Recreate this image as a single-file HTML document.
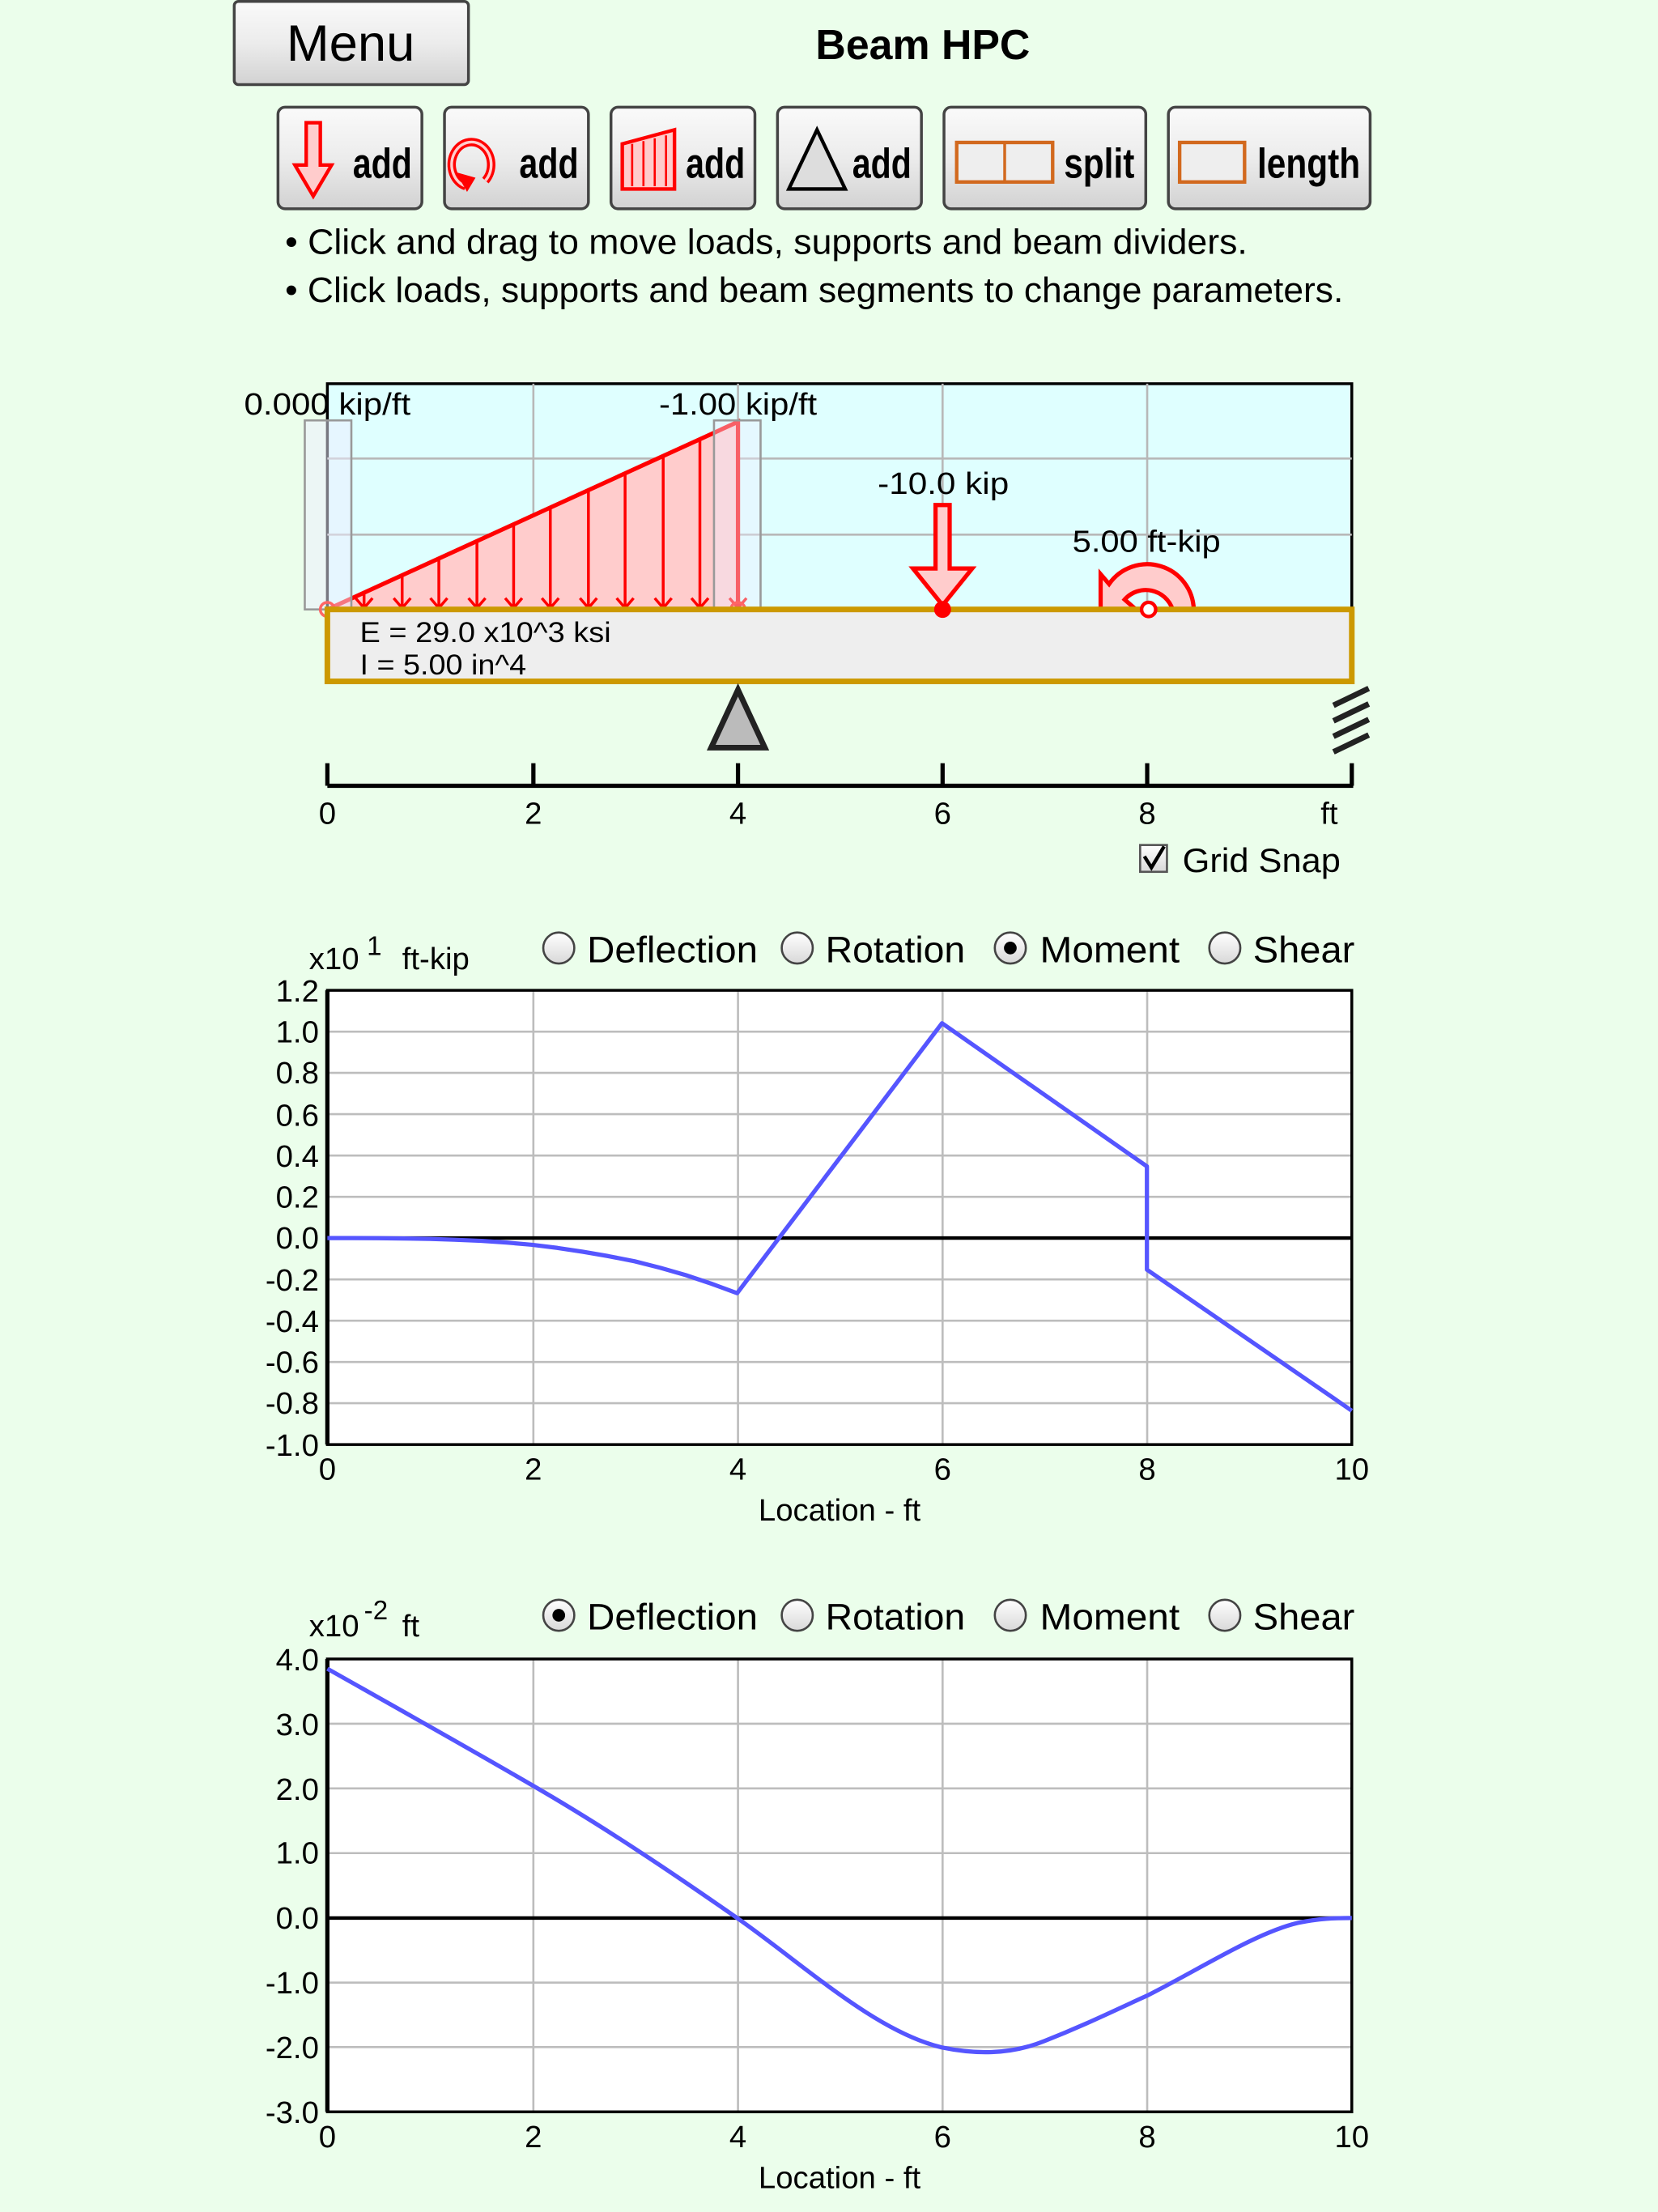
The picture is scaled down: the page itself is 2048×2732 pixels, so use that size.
<!DOCTYPE html>
<html><head><meta charset="utf-8"><style>html,body{margin:0;padding:0;background:#ebfeeb}svg{display:block}text{font-family:"Liberation Sans",sans-serif;fill:#000}</style></head>
<body>
<svg width="2048" height="2732" viewBox="0 0 1175 1568" preserveAspectRatio="none" xmlns="http://www.w3.org/2000/svg">
<defs>
<linearGradient id="bg" x1="0" y1="0" x2="0" y2="1"><stop offset="0" stop-color="#fafafa"/><stop offset="0.5" stop-color="#ececec"/><stop offset="1" stop-color="#d2d2d2"/></linearGradient>
<linearGradient id="rg" x1="0" y1="0" x2="0" y2="1"><stop offset="0" stop-color="#fff"/><stop offset="1" stop-color="#d8d8d8"/></linearGradient>
</defs>
<rect width="1175" height="1568" fill="#ebfeeb"/>
<!-- Menu -->
<rect x="166" y="1" width="166" height="59" rx="3" fill="url(#bg)" stroke="#444" stroke-width="2"/>
<text x="203" y="43" font-size="36" textLength="91" lengthAdjust="spacingAndGlyphs">Menu</text>
<text x="578" y="42" font-size="30" font-weight="bold" textLength="152" lengthAdjust="spacingAndGlyphs">Beam HPC</text>
<!-- buttons -->
<g stroke="#444" stroke-width="2" fill="url(#bg)">
<rect x="197" y="76" width="102" height="72" rx="5"/>
<rect x="315" y="76" width="102" height="72" rx="5"/>
<rect x="433" y="76" width="102" height="72" rx="5"/>
<rect x="551" y="76" width="102" height="72" rx="5"/>
<rect x="669" y="76" width="143" height="72" rx="5"/>
<rect x="828" y="76" width="143" height="72" rx="5"/>
</g>
<g font-size="30" font-weight="bold" lengthAdjust="spacingAndGlyphs">
<text x="250" y="126" textLength="42" lengthAdjust="spacingAndGlyphs">add</text><text x="368" y="126" textLength="42" lengthAdjust="spacingAndGlyphs">add</text><text x="486" y="126" textLength="42" lengthAdjust="spacingAndGlyphs">add</text><text x="604" y="126" textLength="42" lengthAdjust="spacingAndGlyphs">add</text>
<text x="754" y="126" textLength="50" lengthAdjust="spacingAndGlyphs">split</text><text x="891" y="126" textLength="73" lengthAdjust="spacingAndGlyphs">length</text>
</g>
<path d="M217,87 h10 v30 h8 l-13,22 l-13,-22 h8z" fill="#ffcccc" stroke="#f00" stroke-width="2.5"/>
<path d="M330,132 a14,16 0 1 1 14,-4" fill="none" stroke="#f00" stroke-width="6"/>
<path d="M330,132 a14,16 0 1 1 14,-4" fill="none" stroke="#ffcccc" stroke-width="2"/>
<path d="M323,122 l8,14 l6,-10z" fill="#f00"/>
<path d="M441,102 l37,-10 v42 h-37z" fill="#ffcccc" stroke="#f00" stroke-width="2.5"/>
<path d="M448,102 v30 M456,100 v32 M464,98 v34 M472,96 v36" stroke="#f00" stroke-width="1.5"/>
<path d="M579,92 l-20,42 h40z" fill="#ddd" stroke="#000" stroke-width="2.5"/>
<rect x="678" y="101" width="68" height="28" fill="#eee" stroke="#d2691e" stroke-width="2.5"/><line x1="712" y1="101" x2="712" y2="129" stroke="#d2691e" stroke-width="2"/>
<rect x="836" y="101" width="46" height="28" fill="#eee" stroke="#d2691e" stroke-width="2.5"/>
<text x="202" y="180" font-size="25" textLength="682" lengthAdjust="spacingAndGlyphs">• Click and drag to move loads, supports and beam dividers.</text>
<text x="202" y="214" font-size="25" textLength="750" lengthAdjust="spacingAndGlyphs">• Click loads, supports and beam segments to change parameters.</text>
<!-- beam diagram -->
<rect x="232" y="272" width="726" height="160" fill="#dfffff" stroke="#000" stroke-width="2"/>
<g stroke="#b8b8b8" stroke-width="1.5"><line x1="378" y1="272" x2="378" y2="432"/><line x1="523" y1="272" x2="523" y2="432"/><line x1="668" y1="272" x2="668" y2="432"/><line x1="813" y1="272" x2="813" y2="432"/><line x1="232" y1="325" x2="958" y2="325"/><line x1="232" y1="379" x2="958" y2="379"/></g>
<path d="M232,432 L523,299 L523,432z" fill="#ffcccc" stroke="#f00" stroke-width="3"/>
<g stroke="#f00" stroke-width="2" fill="none">
<path d="M258,420v10 M285,408v22 M311,396v34 M338,384v46 M364,372v58 M390,360v70 M417,348v82 M443,336v94 M470,324v106 M496,312v118"/>
<path d="M252,424l6,7l6,-7 M279,424l6,7l6,-7 M305,424l6,7l6,-7 M332,424l6,7l6,-7 M358,424l6,7l6,-7 M384,424l6,7l6,-7 M411,424l6,7l6,-7 M437,424l6,7l6,-7 M464,424l6,7l6,-7 M490,424l6,7l6,-7 M517,424l6,7l6,-7"/>
</g>
<rect x="216" y="298" width="33" height="134" fill="#eef" fill-opacity="0.5" stroke="#999" stroke-width="1.5"/>
<rect x="506" y="298" width="33" height="134" fill="#eef" fill-opacity="0.4" stroke="#999" stroke-width="1.5"/>
<circle cx="232" cy="432" r="5" fill="none" stroke="#f66" stroke-width="2"/><circle cx="523" cy="432" r="5" fill="none" stroke="#f66" stroke-width="2"/>
<text x="173" y="294" font-size="22" textLength="118" lengthAdjust="spacingAndGlyphs">0.000 kip/ft</text>
<text x="467" y="294" font-size="22" textLength="112" lengthAdjust="spacingAndGlyphs">-1.00 kip/ft</text>
<text x="622" y="350" font-size="22" textLength="93" lengthAdjust="spacingAndGlyphs">-10.0 kip</text>
<text x="760" y="391" font-size="22" textLength="105" lengthAdjust="spacingAndGlyphs">5.00 ft-kip</text>
<path d="M663,358 h10 v45 h16 l-21,26 l-21,-26 h16z" fill="#ffcccc" stroke="#f00" stroke-width="3"/>
<path d="M846,432 a33,33 0 0 0 -60,-18 l-6,-7 v25 h25 l-8,-7 a20,20 0 0 1 34,7z" fill="#ffcccc" stroke="#f00" stroke-width="3"/>
<rect x="232" y="432" width="726" height="51" fill="#eeeeee" stroke="#cc9900" stroke-width="4"/>
<circle cx="668" cy="432" r="6" fill="#f00"/>
<circle cx="814" cy="432" r="5" fill="#fff" stroke="#f00" stroke-width="2.5"/>
<text x="255" y="455" font-size="20" textLength="178" lengthAdjust="spacingAndGlyphs">E = 29.0 x10^3 ksi</text>
<text x="255" y="478" font-size="20" textLength="118" lengthAdjust="spacingAndGlyphs">I = 5.00 in^4</text>
<path d="M523,489 l-19,41 h38z" fill="#bbb" stroke="#222" stroke-width="4"/>
<g stroke="#222" stroke-width="4"><line x1="945" y1="500" x2="970" y2="488"/><line x1="945" y1="511" x2="970" y2="499"/><line x1="945" y1="522" x2="970" y2="510"/><line x1="945" y1="533" x2="970" y2="521"/></g>
<g stroke="#000" stroke-width="3"><line x1="232" y1="557" x2="959" y2="557"/><line x1="232" y1="541" x2="232" y2="557"/><line x1="378" y1="541" x2="378" y2="557"/><line x1="523" y1="541" x2="523" y2="557"/><line x1="668" y1="541" x2="668" y2="557"/><line x1="813" y1="541" x2="813" y2="557"/><line x1="958" y1="541" x2="958" y2="557"/></g>
<g font-size="22" text-anchor="middle"><text x="232" y="584">0</text><text x="378" y="584">2</text><text x="523" y="584">4</text><text x="668" y="584">6</text><text x="813" y="584">8</text><text x="942" y="584">ft</text></g>
<rect x="808" y="599" width="19" height="19" fill="url(#rg)" stroke="#555" stroke-width="1.5"/>
<path d="M811,607 l5,8 l9,-15" fill="none" stroke="#000" stroke-width="2.5"/>
<text x="838" y="618" font-size="24" textLength="112" lengthAdjust="spacingAndGlyphs">Grid Snap</text>
<!-- radio rows -->
<g font-size="26">
<text x="416" y="682" textLength="121" lengthAdjust="spacingAndGlyphs">Deflection</text><text x="585" y="682" textLength="99" lengthAdjust="spacingAndGlyphs">Rotation</text><text x="737" y="682" textLength="99" lengthAdjust="spacingAndGlyphs">Moment</text><text x="888" y="682" textLength="72" lengthAdjust="spacingAndGlyphs">Shear</text>
<text x="416" y="1155" textLength="121" lengthAdjust="spacingAndGlyphs">Deflection</text><text x="585" y="1155" textLength="99" lengthAdjust="spacingAndGlyphs">Rotation</text><text x="737" y="1155" textLength="99" lengthAdjust="spacingAndGlyphs">Moment</text><text x="888" y="1155" textLength="72" lengthAdjust="spacingAndGlyphs">Shear</text>
</g>
<g fill="url(#rg)" stroke="#444" stroke-width="1.5">
<circle cx="396" cy="672" r="11"/><circle cx="565" cy="672" r="11"/><circle cx="716" cy="672" r="11"/><circle cx="868" cy="672" r="11"/>
<circle cx="396" cy="1145" r="11"/><circle cx="565" cy="1145" r="11"/><circle cx="716" cy="1145" r="11"/><circle cx="868" cy="1145" r="11"/>
</g>
<circle cx="716" cy="672" r="4.5" fill="#000"/><circle cx="396" cy="1145" r="4.5" fill="#000"/>
<text x="219" y="687" font-size="22">x10</text><text x="260" y="677" font-size="19">1</text><text x="285" y="687" font-size="22">ft-kip</text>
<text x="219" y="1160" font-size="22">x10</text><text x="258" y="1148" font-size="19">-2</text><text x="285" y="1160" font-size="22">ft</text>
<!-- moment chart -->
<rect x="232" y="702" width="726" height="322" fill="#fff"/>
<g stroke="#bdbdbd" stroke-width="1.5">
<line x1="378" y1="702" x2="378" y2="1024"/><line x1="523" y1="702" x2="523" y2="1024"/><line x1="668" y1="702" x2="668" y2="1024"/><line x1="813" y1="702" x2="813" y2="1024"/>
<line x1="232" y1="731.3" x2="958" y2="731.3"/><line x1="232" y1="760.5" x2="958" y2="760.5"/><line x1="232" y1="789.8" x2="958" y2="789.8"/><line x1="232" y1="819.1" x2="958" y2="819.1"/><line x1="232" y1="848.4" x2="958" y2="848.4"/><line x1="232" y1="906.9" x2="958" y2="906.9"/><line x1="232" y1="936.2" x2="958" y2="936.2"/><line x1="232" y1="965.5" x2="958" y2="965.5"/><line x1="232" y1="994.7" x2="958" y2="994.7"/>
</g>
<line x1="232" y1="877.6" x2="958" y2="877.6" stroke="#000" stroke-width="2.5"/>
<rect x="232" y="702" width="726" height="322" fill="none" stroke="#000" stroke-width="2"/>
<line x1="232" y1="702" x2="232" y2="1024" stroke="#000" stroke-width="3"/>
<polyline points="232,877.6 250,877.6 268,877.7 286,877.9 304.6,878.2 322,878.8 341,879.6 359,880.8 377.2,882.4 395,884.6 413,887.3 431,890.4 449.8,894.1 468,898.7 486,903.9 504,909.9 522.4,916.7 667.6,725.3 812.8,826.8 812.8,900 958,1000" fill="none" stroke="#5555ff" stroke-width="3" stroke-linejoin="round"/>
<g font-size="22" text-anchor="end">
<text x="226" y="710">1.2</text><text x="226" y="739">1.0</text><text x="226" y="768">0.8</text><text x="226" y="798">0.6</text><text x="226" y="827">0.4</text><text x="226" y="856">0.2</text><text x="226" y="885">0.0</text><text x="226" y="915">-0.2</text><text x="226" y="944">-0.4</text><text x="226" y="973">-0.6</text><text x="226" y="1002">-0.8</text><text x="226" y="1032">-1.0</text>
</g>
<g font-size="22" text-anchor="middle"><text x="232" y="1049">0</text><text x="378" y="1049">2</text><text x="523" y="1049">4</text><text x="668" y="1049">6</text><text x="813" y="1049">8</text><text x="958" y="1049">10</text>
<text x="595" y="1078">Location - ft</text></g>
<!-- deflection chart -->
<rect x="232" y="1176" width="726" height="321" fill="#fff"/>
<g stroke="#bdbdbd" stroke-width="1.5">
<line x1="378" y1="1176" x2="378" y2="1497"/><line x1="523" y1="1176" x2="523" y2="1497"/><line x1="668" y1="1176" x2="668" y2="1497"/><line x1="813" y1="1176" x2="813" y2="1497"/>
<line x1="232" y1="1221.9" x2="958" y2="1221.9"/><line x1="232" y1="1267.7" x2="958" y2="1267.7"/><line x1="232" y1="1313.6" x2="958" y2="1313.6"/><line x1="232" y1="1405.4" x2="958" y2="1405.4"/><line x1="232" y1="1451.1" x2="958" y2="1451.1"/>
</g>
<line x1="232" y1="1359.6" x2="958" y2="1359.6" stroke="#000" stroke-width="2.5"/>
<rect x="232" y="1176" width="726" height="321" fill="none" stroke="#000" stroke-width="2"/>
<line x1="232" y1="1176" x2="232" y2="1497" stroke="#000" stroke-width="3"/>
<path d="M232,1182.9 C280,1210 330,1238 377.2,1265.5 C430,1296 480,1330 522.4,1359.6 C570,1393 620,1440 667.6,1451.4 C690,1456 715,1457 740.2,1446.8 C770,1435 790,1425 812.8,1414.7 C850,1396 890,1370 920,1363 C935,1360 945,1359.6 958,1359.6" fill="none" stroke="#5555ff" stroke-width="3"/>
<g font-size="22" text-anchor="end">
<text x="226" y="1184">4.0</text><text x="226" y="1230">3.0</text><text x="226" y="1276">2.0</text><text x="226" y="1321">1.0</text><text x="226" y="1367">0.0</text><text x="226" y="1413">-1.0</text><text x="226" y="1459">-2.0</text><text x="226" y="1505">-3.0</text>
</g>
<g font-size="22" text-anchor="middle"><text x="232" y="1522">0</text><text x="378" y="1522">2</text><text x="523" y="1522">4</text><text x="668" y="1522">6</text><text x="813" y="1522">8</text><text x="958" y="1522">10</text>
<text x="595" y="1551">Location - ft</text></g>
</svg>
</body></html>
